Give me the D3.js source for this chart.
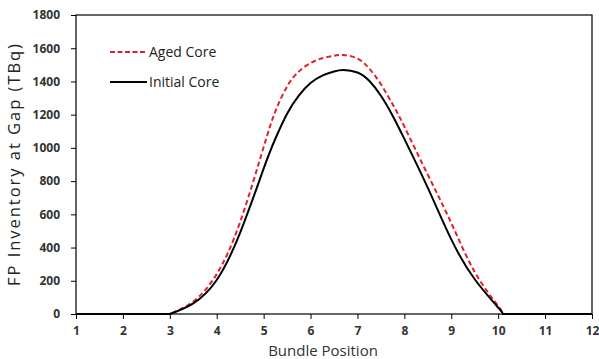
<!DOCTYPE html>
<html>
<head>
<script src="https://d3js.org/d3.v7.min.js"></script>
<style>
  body { margin: 0; background: #fff; }
  .axis text { font-family: "Open Sans", sans-serif; font-weight: bold; font-size: 12px; fill: #333; }
  .axis path, .axis line { stroke: #000; }
</style>
</head>
<body>
<div class="chart"></div>
<script>
// bundle positions and inventories (TBq)
var positions = [1, 2, 3, 3.5, 4, 4.5, 5, 5.25, 5.5, 5.75, 6, 6.25, 6.5, 6.7, 7, 7.25, 7.5, 7.75, 8, 8.5, 9, 9.5, 10, 10.1, 11, 12];
var initialCore = [0, 0, 0, 64, 205, 490, 875, 1055, 1205, 1315, 1390, 1435, 1460, 1469, 1454, 1404, 1314, 1194, 1054, 759, 449, 209, 39, 0, 0, 0];
var agedCore    = [0, 0, 0, 75, 240, 555, 1005, 1220, 1370, 1460, 1510, 1540, 1555, 1559, 1538, 1478, 1383, 1263, 1128, 838, 548, 253, 48, 0, 0, 0];
var xTicks = [1, 2, 3, 4, 5, 6, 7, 8, 9, 10, 11, 12];
var yTicks = [0, 200, 400, 600, 800, 1000, 1200, 1400, 1600, 1800];
var seriesNames = ["Aged Core", "Initial Core"];

var w = 599, h = 359;
var mLeft = 76, mRight = 592, mTop = 15, mBottom = 314;

var xScale = d3.scaleLinear().domain([1, 12]).range([mLeft, mRight]);
var yScale = d3.scaleLinear().domain([0, 1800]).range([mBottom, mTop]);

var svg = d3.select("div.chart").append("svg")
    .attr("width", w)
    .attr("height", h);

// plot frame
svg.append("rect")
    .attr("x", mLeft).attr("y", mTop)
    .attr("width", mRight - mLeft).attr("height", mBottom - mTop)
    .attr("fill", "none").attr("stroke", "#000").attr("stroke-width", 1.2);

var xAxis = d3.axisBottom(xScale).tickValues(xTicks).tickSize(5).tickPadding(7);
var yAxis = d3.axisLeft(yScale).tickValues(yTicks).tickSize(5).tickPadding(11).tickFormat(d3.format("d"));

svg.append("g").attr("class", "axis")
    .attr("transform", "translate(0," + mBottom + ")")
    .call(xAxis)
    .call(function(g){ g.select(".domain").remove(); });
svg.append("g").attr("class", "axis")
    .attr("transform", "translate(" + mLeft + ",0)")
    .call(yAxis)
    .call(function(g){ g.select(".domain").remove(); });

var smooth = d3.line()
    .x(function(d){ return xScale(d[0]); })
    .y(function(d){ return yScale(d[1]); })
    .curve(d3.curveNatural);

// zero stretches drawn straight, the hump drawn smooth
function drawSeries(values, color, dash) {
    var pts = d3.zip(positions, values);
    var first = pts.findIndex(function(p){ return p[1] > 0; }) - 1;
    var last = pts.length - 1 - pts.slice().reverse().findIndex(function(p){ return p[1] > 0; }) + 1;
    var d = "M" + xScale(pts[0][0]) + "," + yScale(0) + "L" + xScale(pts[first][0]) + "," + yScale(0)
          + smooth(pts.slice(first, last + 1)).replace(/^M[^CL]*/, "")
          + "L" + xScale(pts[pts.length - 1][0]) + "," + yScale(0);
    svg.append("path")
        .attr("fill", "none")
        .attr("stroke", color)
        .attr("stroke-width", 2)
        .attr("stroke-dasharray", dash)
        .attr("d", d);
}
drawSeries(agedCore, "#e0202b", "5,3");
drawSeries(initialCore, "#000", null);

// legend
var legend = [
    {name: seriesNames[0], color: "#e0202b", dash: "5,2.5", y: 52},
    {name: seriesNames[1], color: "#000", dash: null, y: 82}
];
legend.forEach(function(l){
    svg.append("line")
        .attr("x1", 110).attr("x2", 147)
        .attr("y1", l.y).attr("y2", l.y)
        .attr("stroke", l.color).attr("stroke-width", 2)
        .attr("stroke-dasharray", l.dash);
    svg.append("text")
        .attr("x", 149).attr("y", l.y + 5)
        .attr("font-family", "Open Sans, sans-serif")
        .attr("font-size", 14)
        .attr("fill", "#222")
        .text(l.name);
});

// axis titles
svg.append("text")
    .attr("x", (mLeft + mRight) / 2 - 11)
    .attr("y", 356)
    .attr("text-anchor", "middle")
    .attr("font-family", "Open Sans, sans-serif")
    .attr("font-size", 15)
    .attr("fill", "#333")
    .text("Bundle Position");

svg.append("text")
    .attr("transform", "translate(20,165) rotate(-90)")
    .attr("text-anchor", "middle")
    .attr("font-family", "Open Sans, sans-serif")
    .attr("font-size", 16.5)
    .attr("textLength", 242)
    .attr("lengthAdjust", "spacing")
    .attr("fill", "#222")
    .text("FP Inventory at Gap (TBq)");
</script>
</body>
</html>
